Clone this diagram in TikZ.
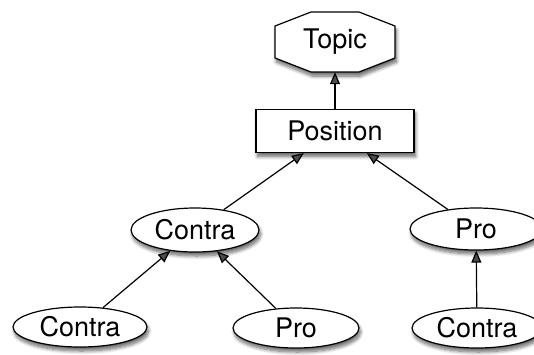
\documentclass[tikz,border=0pt]{standalone}
\usepackage{fontspec}
\setmainfont{TeX Gyre Heros}
\usetikzlibrary{shapes.geometric,arrows.meta,shadows.blur,calc}
\begin{document}
\begin{tikzpicture}[x=1pt,y=-1pt,
  every node/.style={font=\fontsize{27}{32}\selectfont, inner sep=0pt},
  softshadow/.style={blur shadow={shadow xshift=1.5pt, shadow yshift=-4pt,
      shadow blur radius=3.5pt, shadow blur steps=8, shadow opacity=60}},
  argbox/.style={ellipse, draw, line width=1.2pt, fill=white, softshadow},
  posbox/.style={rectangle, draw, line width=1.2pt, fill=white, softshadow},
  link/.style={line width=1.2pt, -{Triangle[length=12pt,width=10pt]}}]
  \useasboundingbox (0,0) rectangle (534,354);

  % topic octagon, drawn as a path around an invisible node
  \node (topic) [minimum width=120pt, minimum height=60pt] at (335,42) {};
  \draw[line width=1.2pt, fill=white, softshadow]
    ($(topic.center)+(-24,-30)$) -- ($(topic.center)+(24,-30)$)
    -- ($(topic.center)+(60,-16)$) -- ($(topic.center)+(60,16)$)
    -- ($(topic.center)+(24,30)$) -- ($(topic.center)+(-24,30)$)
    -- ($(topic.center)+(-60,16)$) -- ($(topic.center)+(-60,-16)$) -- cycle;
  \node at (topic.center) {Topic};

  \node (pos) [posbox, minimum width=158pt, minimum height=43pt] at (335,131) {Position};

  \node (cm) [argbox, minimum width=128pt, minimum height=44pt] at (195,230) {Contra};
  \node (pr) [argbox, minimum width=132pt, minimum height=42pt] at (476,229) {Pro};

  \node (cl) [argbox, minimum width=134pt, minimum height=40pt] at (80,327) {Contra};
  \node (pb) [argbox, minimum width=126pt, minimum height=40pt] at (296,328) {Pro};
  \node (cr) [argbox, minimum width=130pt, minimum height=40pt] at (477,328) {Contra};

  \draw[link] (pos) -- (topic);
  \draw[link] (cm) -- (pos);
  \draw[link] (pr) -- (pos);
  \draw[link] (cl) -- (cm);
  \draw[link] (pb) -- (cm);
  \draw[link] (cr) -- (pr);
\end{tikzpicture}
\end{document}
